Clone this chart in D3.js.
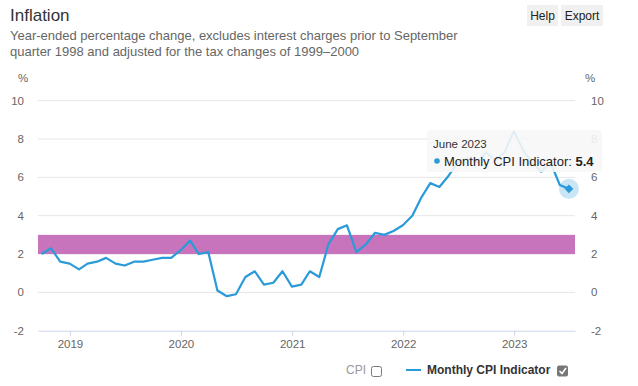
<!DOCTYPE html>
<html>
<head>
<meta charset="utf-8">
<script src="https://cdn.jsdelivr.net/npm/d3@7"></script>
<style>
  body { margin: 0; background: #fff; font-family: "Liberation Sans", Arial, sans-serif; }
  svg text { font-family: "Liberation Sans", Arial, sans-serif; }
</style>
</head>
<body>
<div id="chart"></div>
<script>
// monthly CPI indicator, year-ended %, Sep 2018 .. Jun 2023
var firstMonth = "2018-09";
var cpiMonthly = [
  2.0, 2.3, 1.6, 1.5,
  1.2, 1.5, 1.6, 1.8, 1.5, 1.4, 1.6, 1.6, 1.7, 1.8, 1.8, 2.2,
  2.7, 2.0, 2.1, 0.1, -0.2, -0.1, 0.8, 1.1, 0.4, 0.5, 1.1, 0.3,
  0.4, 1.1, 0.8, 2.5, 3.3, 3.5, 2.1, 2.5, 3.1, 3.0, 3.2, 3.5,
  4.0, 4.9, 5.7, 5.5, 6.1, 6.8, 7.0, 6.8, 7.3, 6.9, 7.3, 8.4,
  7.4, 6.8, 6.3, 6.8, 5.6, 5.4
];
var yTicks = [-2, 0, 2, 4, 6, 8, 10];
var yearTicks = [2019, 2020, 2021, 2022, 2023];
var targetBand = [2, 3];

var W = 638, H = 386;
var svg = d3.select("#chart").append("svg")
  .attr("width", W).attr("height", H);

// month-end dates for each point
var start = d3.timeParse("%Y-%m")(firstMonth);
var data = cpiMonthly.map(function(v, i){
  var d = d3.timeMonth.offset(start, i);
  return { month: d, date: new Date(d.getFullYear(), d.getMonth() + 1, 0), value: v };
});

var x = d3.scaleTime()
  .domain([new Date(2018, 8, 18), new Date(2023, 6, 20)])
  .range([38, 575]);
var y = d3.scaleLinear().domain([-2, 10]).range([330.7, 100.7]);

// header
svg.append("text").attr("x", 10).attr("y", 21)
  .attr("font-size", 17).attr("fill", "#333").text("Inflation");
svg.append("text").attr("x", 10).attr("y", 40)
  .attr("font-size", 13).attr("fill", "#666")
  .text("Year-ended percentage change, excludes interest charges prior to September");
svg.append("text").attr("x", 10).attr("y", 56)
  .attr("font-size", 13).attr("fill", "#666")
  .text("quarter 1998 and adjusted for the tax changes of 1999\u20132000");

var buttons = [{ label: "Help", x: 527, w: 31 }, { label: "Export", x: 561, w: 42 }];
buttons.forEach(function(b){
  svg.append("rect").attr("x", b.x).attr("y", 5).attr("width", b.w).attr("height", 21)
    .attr("fill", "#f0f0f0");
  svg.append("text").attr("x", b.x + b.w / 2).attr("y", 20)
    .attr("text-anchor", "middle").attr("font-size", 12).attr("fill", "#222").text(b.label);
});

// grid
svg.append("g").selectAll("line").data(yTicks.filter(function(t){ return t !== -2; }))
  .join("line")
  .attr("x1", 38).attr("x2", 575)
  .attr("y1", function(d){ return y(d); }).attr("y2", function(d){ return y(d); })
  .attr("stroke", "#e6e6e6");

// target band
svg.append("rect")
  .attr("x", 38).attr("width", 537)
  .attr("y", y(targetBand[1])).attr("height", y(targetBand[0]) - y(targetBand[1]))
  .attr("fill", "#c874bc");

// x axis
var xAxis = d3.axisBottom(x)
  .tickValues(yearTicks.map(function(yr){ return new Date(yr, 0, 1); }))
  .tickFormat(d3.timeFormat("%Y"))
  .tickSize(5).tickSizeOuter(0).tickPadding(4);
var gx = svg.append("g").attr("transform", "translate(0," + y(-2) + ")").call(xAxis);
gx.select(".domain").attr("stroke", "#ccd6eb");
gx.selectAll(".tick line").attr("stroke", "#ccd6eb");
gx.selectAll("text").attr("fill", "#666").attr("font-size", 11.5);

// y labels both sides
var yl = svg.append("g");
yl.selectAll("text.l").data(yTicks).join("text").attr("class", "l")
  .attr("x", 24).attr("y", function(d){ return y(d) + 4; })
  .attr("text-anchor", "end").attr("font-size", 11.5).attr("fill", "#666")
  .text(function(d){ return d; });
yl.selectAll("text.r").data(yTicks).join("text").attr("class", "r")
  .attr("x", 591).attr("y", function(d){ return y(d) + 4; })
  .attr("text-anchor", "start").attr("font-size", 11.5).attr("fill", "#666")
  .text(function(d){ return d; });
svg.append("text").attr("x", 23).attr("y", 82).attr("text-anchor", "middle")
  .attr("font-size", 11.5).attr("fill", "#666").text("%");
svg.append("text").attr("x", 590).attr("y", 82).attr("text-anchor", "middle")
  .attr("font-size", 11.5).attr("fill", "#666").text("%");

// line
var lineColor = "#2b9ad8";
var line = d3.line()
  .x(function(d){ return x(d.date); })
  .y(function(d){ return y(d.value); });
svg.append("path").datum(data)
  .attr("d", line).attr("fill", "none")
  .attr("stroke", lineColor).attr("stroke-width", 2.2)
  .attr("stroke-linejoin", "round");

// hovered point
var last = data[data.length - 1];
var px = x(last.date), py = y(last.value);
svg.append("circle").attr("cx", px).attr("cy", py).attr("r", 10)
  .attr("fill", lineColor).attr("fill-opacity", 0.25);
svg.append("path")
  .attr("d", d3.symbol(d3.symbolDiamond2, 50)())
  .attr("transform", "translate(" + px + "," + py + ")")
  .attr("fill", lineColor);

// tooltip
var tip = svg.append("g").attr("transform", "translate(427,130)");
tip.append("rect").attr("width", 175).attr("height", 42).attr("rx", 3)
  .attr("fill", "#f7f7f7").attr("fill-opacity", 0.9);
tip.append("text").attr("x", 6).attr("y", 18).attr("font-size", 11.5).attr("fill", "#333")
  .text(d3.timeFormat("%B %Y")(last.month));
tip.append("circle").attr("cx", 10).attr("cy", 31).attr("r", 2.8).attr("fill", lineColor);
var tt = tip.append("text").attr("x", 17).attr("y", 36).attr("font-size", 13).attr("fill", "#222");
tt.append("tspan").text("Monthly CPI Indicator: ");
tt.append("tspan").attr("font-weight", "bold").text(d3.format(".1f")(last.value));

// legend
var lg = svg.append("g");
lg.append("text").attr("x", 346).attr("y", 374).attr("font-size", 12).attr("fill", "#999").text("CPI");
lg.append("rect").attr("x", 371.5).attr("y", 366.5).attr("width", 10).attr("height", 10).attr("rx", 2)
  .attr("fill", "#fff").attr("stroke", "#777");
lg.append("line").attr("x1", 406).attr("x2", 421).attr("y1", 370).attr("y2", 370)
  .attr("stroke", lineColor).attr("stroke-width", 2);
lg.append("text").attr("x", 427).attr("y", 374).attr("font-size", 12).attr("font-weight", "bold")
  .attr("fill", "#333").text("Monthly CPI Indicator");
lg.append("rect").attr("x", 557).attr("y", 365.5).attr("width", 11).attr("height", 11).attr("rx", 2)
  .attr("fill", "#777");
lg.append("path").attr("d", "M559.5,371 L562,373.5 L566,368")
  .attr("fill", "none").attr("stroke", "#fff").attr("stroke-width", 1.6);
</script>
</body>
</html>
